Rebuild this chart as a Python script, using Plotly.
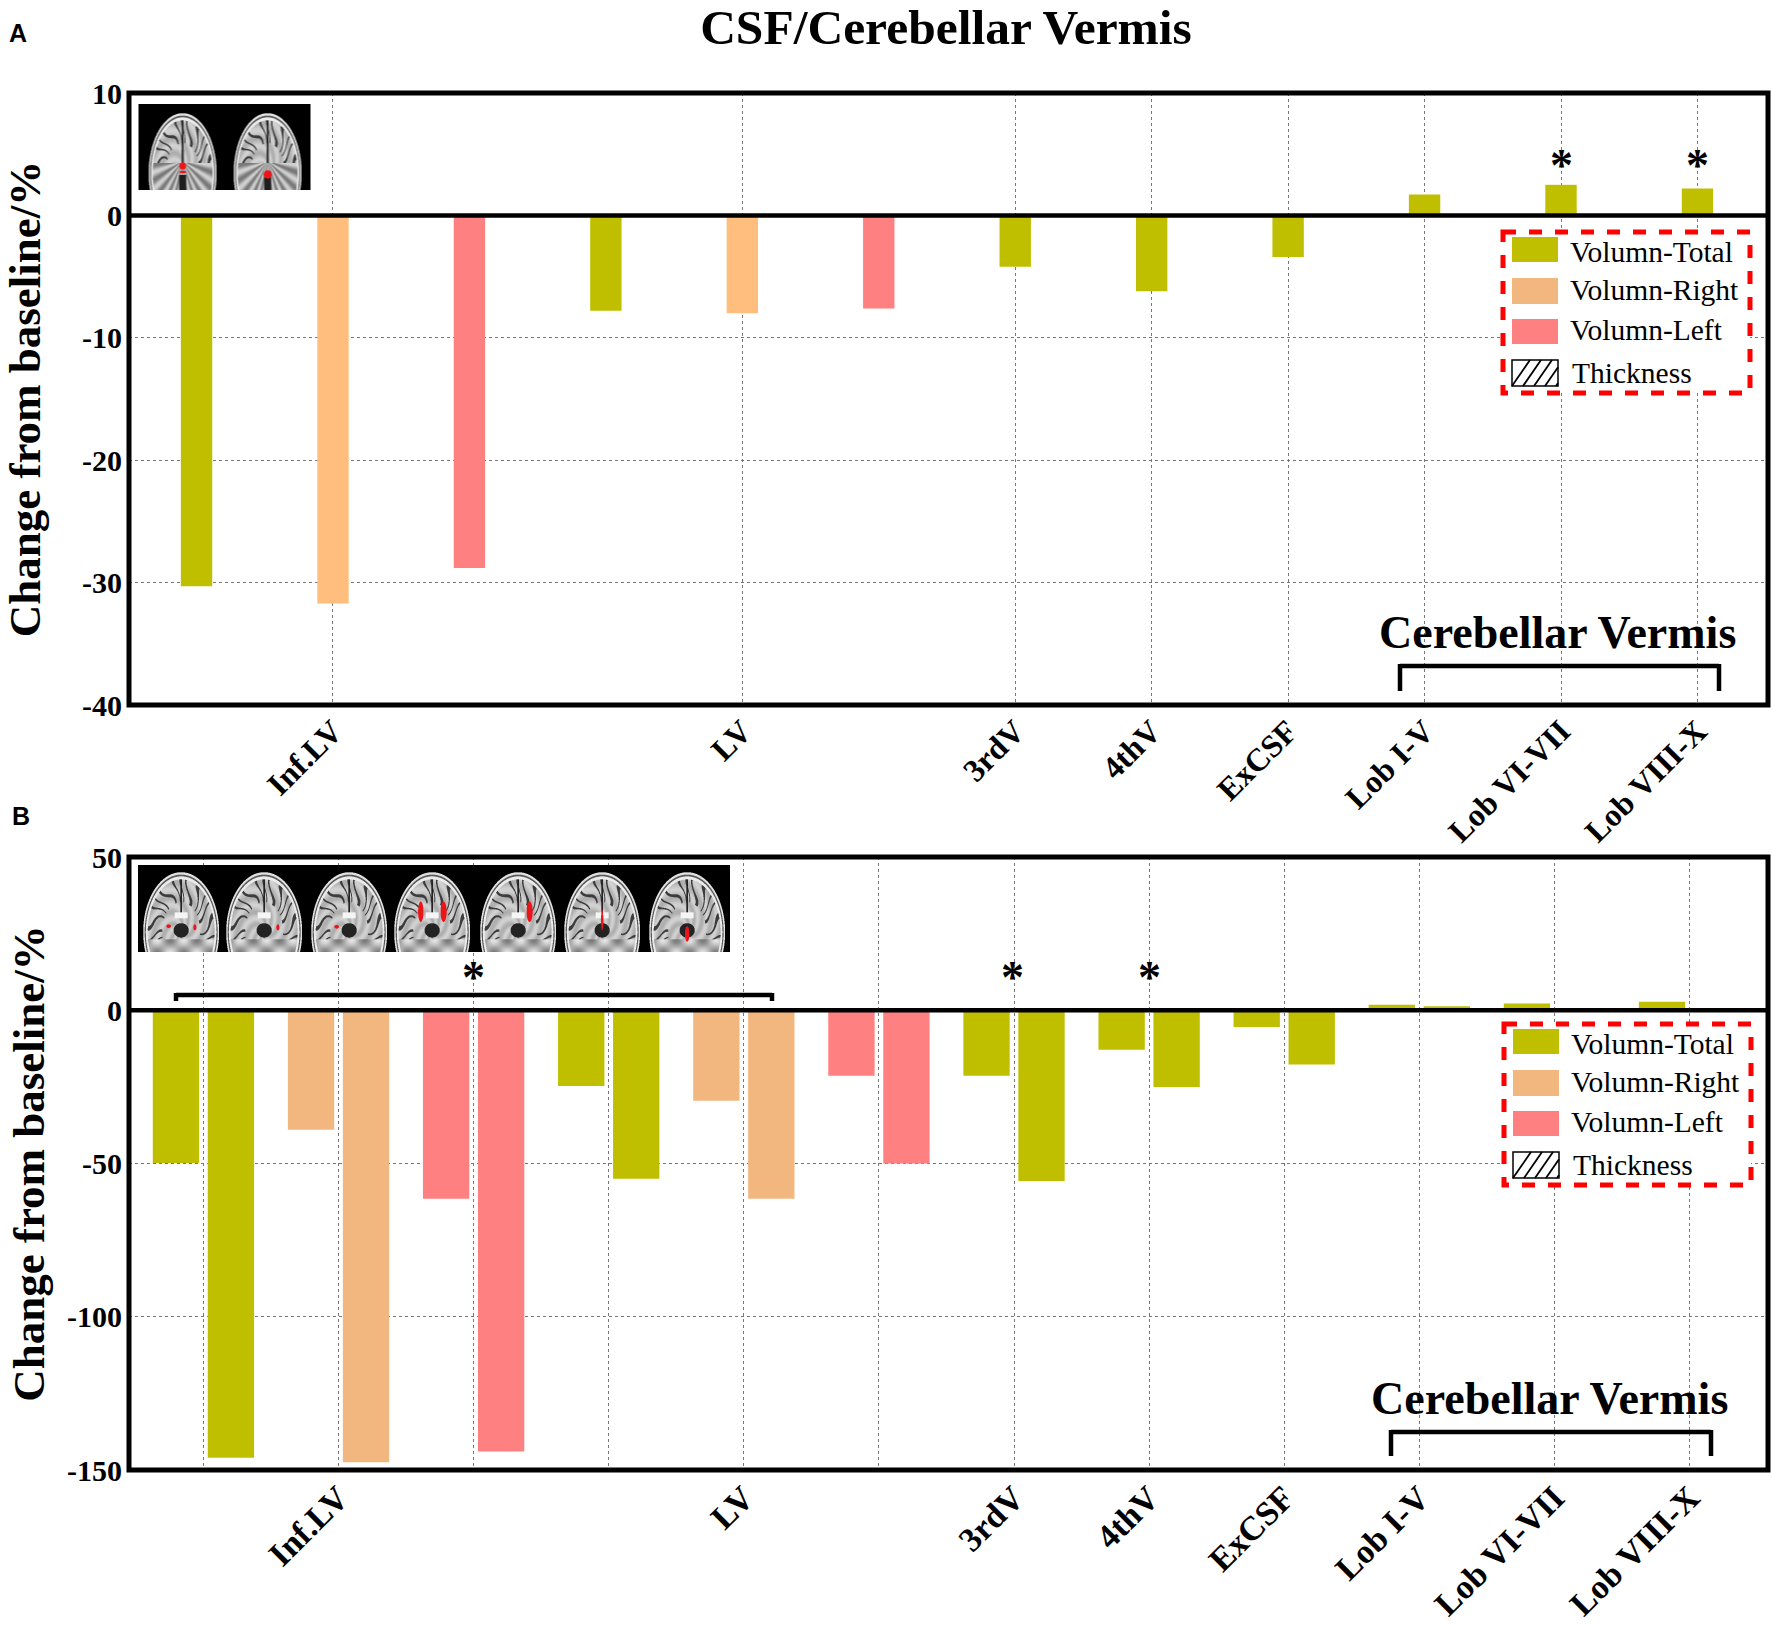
import base64, struct, zlib
import numpy as np
import plotly.graph_objects as go

W, H = 1772, 1625
SERIF = "Liberation Serif"

# ---------- data ----------
slot_labels = ["", "Inf.LV", "", "", "LV", "", "3rdV", "4thV", "ExCSF", "Lob I-V", "Lob VI-VII", "Lob VIII-X"]
slot_series = ["Volumn-Total", "Volumn-Right", "Volumn-Left",
               "Volumn-Total", "Volumn-Right", "Volumn-Left",
               "Volumn-Total", "Volumn-Total", "Volumn-Total",
               "Volumn-Total", "Volumn-Total", "Volumn-Total"]
panel_a_values = [-30.3, -31.7, -28.8, -7.8, -8.0, -7.6, -4.2, -6.2, -3.4, 1.7, 2.5, 2.2]
panel_b_first = [-49.8, -39.0, -61.5, -24.7, -29.5, -21.4, -21.4, -12.9, -5.5, 1.8, 2.2, 2.8]
panel_b_second = [-146.0, -147.5, -144.0, -55.0, -61.5, -50.0, -55.7, -25.0, -17.7, 1.3, None, None]
panel_a_yticks = [-40, -30, -20, -10, 0, 10]
panel_b_yticks = [-150, -100, -50, 0, 50]
legend_labels = ["Volumn-Total", "Volumn-Right", "Volumn-Left", "Thickness"]
colors_a = {"Volumn-Total": "#BFBF00", "Volumn-Right": "#FFBE7D", "Volumn-Left": "#FF8080"}
colors_b = {"Volumn-Total": "#BFBF00", "Volumn-Right": "#F2B77F", "Volumn-Left": "#FF8080"}
legend_colors = {"Volumn-Total": "#BFBF00", "Volumn-Right": "#F2B77F", "Volumn-Left": "#FF8080"}


# ---------- helpers ----------
def fx(x):
    return x / W


def fy(y):
    return 1 - y / H


def png_uri(rgb):
    h, w, _ = rgb.shape
    raw = b"".join(b"\x00" + rgb[i].tobytes() for i in range(h))

    def chunk(t, d):
        c = struct.pack(">I", len(d)) + t + d
        return c + struct.pack(">I", zlib.crc32(t + d) & 0xFFFFFFFF)

    data = b"\x89PNG\r\n\x1a\n" + chunk(b"IHDR", struct.pack(">IIBBBBB", w, h, 8, 2, 0, 0, 0)) \
        + chunk(b"IDAT", zlib.compress(raw)) + chunk(b"IEND", b"")
    return "data:image/png;base64," + base64.b64encode(data).decode()


def brains(w, h, heads, a, b, cy, kind):
    """Schematic coronal MRI tiles: heads = [(centre x, [(du, dv, ru, rv), ...]), ...]."""
    s = 3
    yy, xx = np.mgrid[0:h * s, 0:w * s] / s
    g = np.zeros(xx.shape)
    red = np.zeros(xx.shape, bool)
    for cx, spots in heads:
        u = (xx - cx) / a
        v = (yy - cy) / b
        r = np.hypot(u, v)
        th = np.arctan2(u, -v)
        scalp = r < 1
        g[scalp] = 225
        g[(r < .96) & scalp] = 90
        g[(r < .93)] = 235
        inner = r < .88
        folds = np.sin(th * 23 + 3 * np.sin(r * 9) + 2 * np.sin(th * 7))
        br = 192 + 18 * np.sin(r * 22 + th * 7)
        br = np.where((folds > .75) & (r > .5), 60, br)
        br = np.where((np.abs(u) < .025) & (v < -.25), 35, br)
        g[inner] = br[inner]
        if kind == "post":
            cer = inner & (v > -.17)
            ang = np.arctan2(u, v + .2)
            cval = 165 + 45 * np.sin(ang * 22)
            g[cer] = cval[cer]
            g[inner & (np.abs(u) < .1) & (v > .03)] = 30
            g[inner & (np.abs(u) < .035) & (v > -.4) & (v < -.17)] = 60
        else:
            g[inner & (np.hypot(u / .2, (v + .03) / .12) < 1)] = 35
            g[inner & (np.abs(u) < .17) & (np.abs(v + .28) < .05)] = 245
            low = inner & (v > .12)
            lval = 175 + 55 * np.sin(u * 9 + 1) * np.sin(v * 13)
            g[low] = lval[low]
        for du, dv, ru, rv in spots:
            red |= np.hypot((u - du) / ru, (v - dv) / rv) < 1
    rgb = np.stack([g, g, g], axis=-1)
    rgb[red] = [235, 20, 25]
    rgb = rgb.reshape(h, s, w, s, 3).mean(axis=(1, 3))
    return png_uri(np.clip(rgb, 0, 255).astype(np.uint8))


inset_a = brains(172, 86, [(44, [(0, -.12, .1, .06), (0, -.02, .1, .02)]),
                           (129, [(0, .02, .12, .07)])], 34, 60, 69, "post")
inset_b = brains(592, 87, [
    (43, [(-.33, -.1, .06, .03), (.36, -.08, .04, .05)]),
    (126, [(.36, -.08, .04, .05)]),
    (211, [(-.33, -.09, .06, .03)]),
    (294, [(-.3, -.34, .07, .17), (.3, -.34, .08, .17)]),
    (380, [(.3, -.34, .08, .17)]),
    (464, [(0, -.2, .03, .17)]),
    (549, [(0, .03, .06, .13)]),
], 38, 60, 67, "ant")

fig = go.Figure()


def axes_common(tick_size=32):
    return dict(showline=False, ticks="",
                showgrid=True, gridcolor="#777777", griddash="dot", gridwidth=1,
                zeroline=False, tickfont=dict(family=SERIF, size=tick_size, color="black", weight=700),
                automargin=False)


def y_labels(vals):
    return [str(v) for v in vals]


n = len(slot_labels)
slots = list(range(1, n + 1))


def add_series(values, colors, xa, ya, width, offset, tag):
    for name, col in colors.items():
        xs, ys = [], []
        for p, s, val in zip(slots, slot_series, values):
            if s == name and val is not None:
                xs.append(p)
                ys.append(val)
        fig.add_trace(go.Bar(x=xs, y=ys, name=f"{name} {tag}".strip(), xaxis=xa, yaxis=ya,
                             width=width, offset=offset, marker=dict(color=col, line_width=0),
                             showlegend=False))


add_series(panel_a_values, colors_a, "x", "y", .23, -.115, "")
add_series(panel_b_first, colors_b, "x2", "y2", .343, -.375, "(first)")
add_series(panel_b_second, colors_b, "x2", "y2", .343, .032, "(second)")

labelled = [p for p, t in zip(slots, slot_labels) if t]
labelled_text = [slot_labels[p - 1] for p in labelled]
ytick_font = dict(family=SERIF, size=30, color="black", weight=700)
ytitle_font = dict(family=SERIF, size=45, color="black", weight=700)

fig.update_layout(
    width=W, height=H, margin=dict(l=0, r=0, t=0, b=0), paper_bgcolor="white", plot_bgcolor="white",
    barmode="overlay", showlegend=False,
    title=dict(text="CSF/Cerebellar Vermis", x=946 / W, xanchor="center", y=fy(27), yanchor="middle",
               font=dict(family=SERIF, size=49.5, color="black", weight=700)),
    xaxis=dict(axes_common(), domain=[fx(129), fx(1768)], range=[.505, 12.517], tickmode="array",
               tickvals=labelled, ticktext=labelled_text, tickangle=-45, anchor="y", ticklabelstandoff=0),
    yaxis=dict(axes_common(), domain=[fy(705), fy(93)], range=[-40, 10], tickmode="array",
               tickvals=panel_a_yticks, ticktext=y_labels(panel_a_yticks), tickfont=ytick_font,
               anchor="x", ticklabelstandoff=6,
               title=dict(text="Change from baseline/%", standoff=40, font=ytitle_font)),
    xaxis2=dict(axes_common(34), domain=[fx(129), fx(1768)], range=[.449, 12.581], tickmode="array",
                tickvals=slots, ticktext=slot_labels, tickangle=-45, anchor="y2", ticklabelstandoff=0),
    yaxis2=dict(axes_common(), domain=[fy(1470), fy(857)], range=[-150, 50], tickmode="array",
                tickvals=panel_b_yticks, ticktext=y_labels(panel_b_yticks), tickfont=ytick_font,
                anchor="x2", ticklabelstandoff=6,
                title=dict(text="Change from baseline/%", standoff=8, font=ytitle_font)),
    images=[
        dict(source=inset_a, xref="paper", yref="paper", x=fx(138.5), y=fy(104), sizex=172 / W, sizey=86 / H,
             xanchor="left", yanchor="top", sizing="stretch", layer="above"),
        dict(source=inset_b, xref="paper", yref="paper", x=fx(138), y=fy(865), sizex=592 / W, sizey=87 / H,
             xanchor="left", yanchor="top", sizing="stretch", layer="above"),
    ],
)

shapes = []
annotations = []


def pline(x0, y0, x1, y1, color="black", width=4.5, dash="solid"):
    shapes.append(dict(type="line", xref="paper", yref="paper", x0=fx(x0), y0=fy(y0), x1=fx(x1), y1=fy(y1),
                       line=dict(color=color, width=width, dash=dash), layer="above"))


def ptext(x, y, text, size, family=SERIF, weight=400, xanchor="center", angle=0):
    annotations.append(dict(xref="paper", yref="paper", x=fx(x), y=fy(y), text=text, showarrow=False,
                            xanchor=xanchor, yanchor="middle", textangle=angle,
                            font=dict(family=family, size=size, color="black", weight=weight)))


# plot frames and zero lines
for xr, yr in (("x", "y"), ("x2", "y2")):
    shapes.append(dict(type="rect", xref=f"{xr} domain", yref=f"{yr} domain", x0=0, x1=1, y0=0, y1=1,
                       line=dict(color="black", width=5), layer="above"))
    shapes.append(dict(type="line", xref=f"{xr} domain", yref=yr, x0=0, x1=1, y0=0, y1=0,
                       line=dict(color="black", width=4.5), layer="above"))

# panel letters
ptext(18, 33, "A", 25, family="Liberation Sans", weight=700)
ptext(21, 816, "B", 25, family="Liberation Sans", weight=700)

# stars
for x, y in ((1561, 158.5), (1697, 158.5), (473, 971), (1012, 971), (1149, 971)):
    ptext(x, y + 7, "*", 46, weight=700)

# brackets
pline(1400, 666, 1719, 666)
pline(1400, 664, 1400, 691)
pline(1719, 664, 1719, 691)
ptext(1557, 632, "Cerebellar Vermis", 46, weight=700)
pline(1391, 1432, 1711, 1432)
pline(1391, 1430, 1391, 1456)
pline(1711, 1430, 1711, 1456)
ptext(1549, 1398, "Cerebellar Vermis", 46, weight=700)
pline(176, 995, 772, 995)
pline(176, 993, 176, 1001)
pline(772, 993, 772, 1001)


# hand-drawn legends
def legend(dy, dx):
    rows = [(237, 262), (278, 304), (319, 344), (360, 386)]
    text_y = [252, 290, 330, 373]
    shapes.append(dict(type="rect", xref="paper", yref="paper", x0=fx(1503 + dx), x1=fx(1750 + dx),
                       y0=fy(232 + dy), y1=fy(393 + dy), line=dict(color="#FF0000", width=5, dash="13px,13px"),
                       layer="above", fillcolor="rgba(255,255,255,1)"))
    for (t, b), ty, lab in zip(rows, text_y, legend_labels):
        if lab in legend_colors:
            shapes.append(dict(type="rect", xref="paper", yref="paper", x0=fx(1512 + dx), x1=fx(1558 + dx),
                               y0=fy(t + dy), y1=fy(b + dy), line_width=0, fillcolor=legend_colors[lab],
                               layer="above"))
            ptext(1568 + dx, ty + dy, lab, 29.5, xanchor="left")
        else:
            shapes.append(dict(type="rect", xref="paper", yref="paper", x0=fx(1512 + dx), x1=fx(1558 + dx),
                               y0=fy(t + dy), y1=fy(b + dy), line=dict(color="black", width=1.5),
                               fillcolor="white", layer="above"))
            for k in range(5):
                x0 = 1512 + dx + k * 11
                x1 = min(x0 + 18, 1558 + dx)
                yb = b + dy
                yt = t + dy + (x0 + 18 - x1) * 26 / 18
                pline(x0, yb, x1, yt, width=1.8)
            ptext(1570 + dx, ty + dy, lab, 29.5, xanchor="left")


legend(0, 0)
legend(792, 1)

fig.update_layout(shapes=shapes, annotations=annotations)
fig.write_html("out.html", config={"displayModeBar": False},
               post_script="document.body.style.margin='0';document.documentElement.style.overflow='hidden';")
